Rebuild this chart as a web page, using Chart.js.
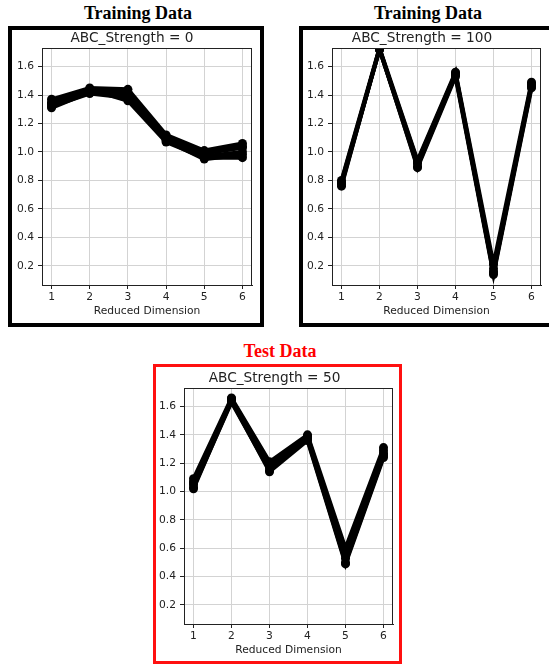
<!DOCTYPE html>
<html>
<head>
<meta charset="utf-8">
<script src="https://cdn.jsdelivr.net/npm/chart.js@4/dist/chart.umd.min.js"></script>
<style>
  html, body { margin: 0; padding: 0; background: #fff; }
  body { width: 549px; height: 664px; position: relative; overflow: hidden; }
  .heading {
    position: absolute; width: 240px; text-align: center;
    font-family: "Liberation Serif", "Times New Roman", serif;
    font-weight: bold; font-size: 18px; line-height: 18px; color: #000;
    white-space: nowrap;
  }
  .box { position: absolute; box-sizing: border-box; background: #fff; }
  canvas { position: absolute; }
</style>
</head>
<body>
<div class="heading" style="left:18px; top:4px;">Training Data</div>
<div class="heading" style="left:308px; top:4px;">Training Data</div>
<div class="heading" style="left:160px; top:342px; color:#ff0000;">Test Data</div>

<div class="box" style="left:8px; top:26px; width:256px; height:301px; border:4px solid #000;"></div>
<div class="box" style="left:299px; top:26px; width:262px; height:301px; border:4px solid #000;"></div>
<div class="box" style="left:153px; top:364px; width:249px; height:300px; border:3px solid #ff1010;"></div>

<canvas id="c0" width="248" height="293" style="left:12px; top:30px;"></canvas>
<canvas id="c1" width="246" height="293" style="left:303px; top:30px;"></canvas>
<canvas id="c2" width="243" height="294" style="left:156px; top:367px;"></canvas>

<script>
// Reduced dimension indices (x axis)
const dims = [1, 2, 3, 4, 5, 6];
// Y-axis tick values
const yTicks = [0.2, 0.4, 0.6, 0.8, 1.0, 1.2, 1.4, 1.6];
// ABC strengths shown in the three panels
const strengths = [0, 100, 50];

// Samples at ABC_Strength = 0 (training)
const strength0 = [
  [1.37, 1.45, 1.44, 1.12, 1.01, 1.06],
  [1.35, 1.43, 1.42, 1.10, 0.99, 1.03],
  [1.33, 1.42, 1.40, 1.09, 0.97, 1.00],
  [1.32, 1.41, 1.38, 1.08, 0.95, 0.98],
  [1.34, 1.44, 1.36, 1.07, 0.96, 0.96],
  [1.31, 1.42, 1.39, 1.11, 1.00, 1.04]
];
// Samples at ABC_Strength = 100 (training)
const strength100 = [
  [0.80, 1.73, 0.94, 1.56, 0.21, 1.49],
  [0.78, 1.72, 0.92, 1.55, 0.18, 1.47],
  [0.77, 1.72, 0.90, 1.54, 0.16, 1.46],
  [0.76, 1.73, 0.89, 1.53, 0.14, 1.45],
  [0.79, 1.72, 0.93, 1.55, 0.15, 1.48]
];
// Samples at ABC_Strength = 50 (test)
const strength50 = [
  [1.09, 1.66, 1.21, 1.40, 0.60, 1.31],
  [1.07, 1.65, 1.19, 1.39, 0.56, 1.29],
  [1.05, 1.64, 1.17, 1.38, 0.53, 1.27],
  [1.03, 1.63, 1.15, 1.37, 0.50, 1.25],
  [1.02, 1.64, 1.14, 1.36, 0.49, 1.24],
  [1.06, 1.65, 1.20, 1.38, 0.58, 1.26]
];

const FONT = "'DejaVu Sans', Verdana, sans-serif";
const TEXT = '#222';

// Draws the full axes frame (all four spines)
const framePlugin = {
  id: 'frame',
  afterDraw(chart) {
    const a = chart.chartArea, ctx = chart.ctx;
    ctx.save();
    ctx.strokeStyle = '#222';
    ctx.lineWidth = 1;
    ctx.strokeRect(Math.round(a.left) + 0.5, Math.round(a.top) + 0.5,
                   Math.round(a.right - a.left) - 1, Math.round(a.bottom - a.top));
    ctx.restore();
  }
};

function makePanel(id, strength, samples, geo) {
  const datasets = samples.map(row => ({
    data: row.map((v, i) => ({ x: dims[i], y: v })),
    borderColor: '#000',
    backgroundColor: '#000',
    borderWidth: 4,
    pointRadius: 4.5,
    pointBorderWidth: 0,
    pointBackgroundColor: '#000',
    tension: 0,
    clip: 0
  }));
  new Chart(document.getElementById(id), {
    type: 'line',
    data: { datasets },
    plugins: [framePlugin],
    options: {
      responsive: false,
      animation: false,
      devicePixelRatio: 1,
      layout: { padding: { left: 0, right: geo.right, top: geo.top, bottom: 0 } },
      plugins: {
        legend: { display: false },
        tooltip: { enabled: false },
        title: {
          display: true,
          text: 'ABC_Strength = ' + strength,
          color: TEXT,
          font: { family: FONT, size: 13.7, weight: 'normal' },
          padding: { top: 0, bottom: 1.6 }
        }
      },
      scales: {
        x: {
          type: 'linear',
          min: 0.75, max: 6.25,
          afterBuildTicks: s => { s.ticks = dims.map(v => ({ value: v })); },
          afterFit: s => { s.height = geo.xh; },
          grid: { color: '#d3d3d3', lineWidth: 1, tickLength: 4, tickColor: '#222' },
          border: { color: '#222' },
          ticks: { color: TEXT, font: { family: FONT, size: 10.7 }, padding: 2,
                   maxRotation: 0, callback: v => String(v) },
          title: { display: true, text: 'Reduced Dimension', color: TEXT,
                   font: { family: FONT, size: 10.7 }, padding: { top: 0, bottom: geo.tb } }
        },
        y: {
          type: 'linear',
          min: 0.066, max: 1.73,
          afterBuildTicks: s => { s.ticks = yTicks.map(v => ({ value: v })); },
          afterFit: s => { s.width = geo.yw; },
          grid: { color: '#d3d3d3', lineWidth: 1, tickLength: 4, tickColor: '#222' },
          border: { color: '#222' },
          ticks: { color: TEXT, font: { family: FONT, size: 10.7 }, padding: 4,
                   callback: v => v.toFixed(1) }
        }
      }
    }
  });
}

makePanel('c0', strengths[0], strength0,   { yw: 30, right: 8, top: 0, xh: 38, tb: 5 });
makePanel('c1', strengths[1], strength100, { yw: 29, right: 8, top: 0, xh: 38, tb: 5 });
makePanel('c2', strengths[2], strength50,  { yw: 28, right: 6, top: 3, xh: 37, tb: 4 });
</script>
</body>
</html>
